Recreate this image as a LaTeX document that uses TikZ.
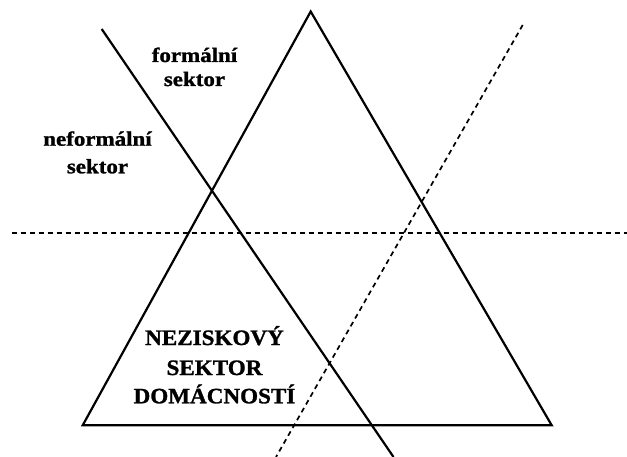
\documentclass[tikz,border=0pt]{standalone}
\usepackage{fontspec}
\setmainfont{Liberation Serif}
\newfontfamily\lowlab[FakeStretch=1.12,FakeBold=1.2]{Liberation Serif}
\newfontfamily\caplab[FakeStretch=1.05,FakeBold=1.2]{Liberation Serif}
\begin{document}
\begin{tikzpicture}[x=1pt,y=-1pt,
  solidline/.style={line width=2.2pt,line join=miter},
  dashline/.style={line width=1.7pt,dash pattern=on 5pt off 4pt},
  lowtxt/.style={font=\lowlab\bfseries\fontsize{20.5}{24}\selectfont,inner sep=0pt,anchor=base},
  captxt/.style={font=\caplab\bfseries\fontsize{22}{29}\selectfont,inner sep=0pt,anchor=base}]
\useasboundingbox (0,0) rectangle (627,457);
% triangle corners
\coordinate (apex) at (310.7,11.5);
\coordinate (bl) at (82.7,425.3);
\coordinate (br) at (551.7,425.3);
% line end points
\coordinate (s1) at (101.7,29);
\coordinate (s2) at (393.5,457);
\coordinate (d1) at (522.7,25);
\coordinate (d2) at (276,457);
\coordinate (h1) at (11.5,233.3);
\coordinate (h2) at (627,233.3);
% drawings
\draw[solidline] (apex) -- (br) -- (bl) -- cycle;
\draw[solidline] (s1) -- (s2);
\draw[dashline] (d1) -- (d2);
\draw[dashline] (h1) -- (h2);
% labels
\node[lowtxt] (f1) at (194.5,62) {formální};
\node[lowtxt] (f2) at (194.5,86) {sektor};
\node[lowtxt] (n1) at (97.5,145.7) {neformální};
\node[lowtxt] (n2) at (97.5,173.3) {sektor};
\node[captxt] (c1) at (214.5,345) {NEZISKOVÝ};
\node[captxt] (c2) at (214.5,375) {SEKTOR};
\node[captxt] (c3) at (214.5,403.3) {DOMÁCNOSTÍ};
\end{tikzpicture}
\end{document}
